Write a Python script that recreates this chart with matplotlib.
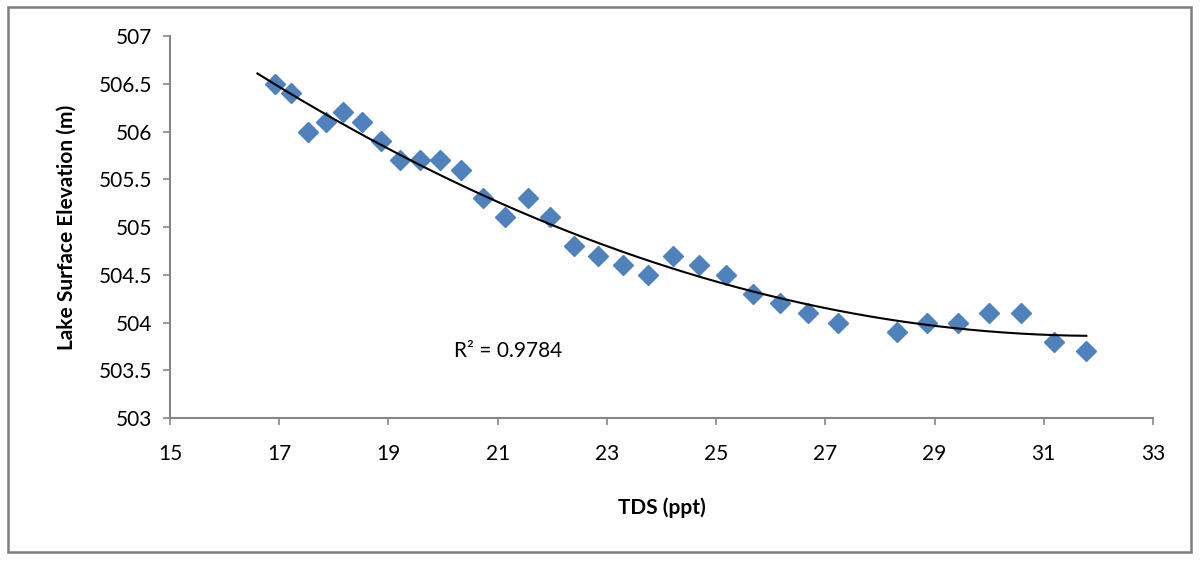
import numpy as np
import matplotlib.pyplot as plt
from matplotlib.patches import Rectangle

# TDS (ppt) vs lake surface elevation (m)
tds = [16.92, 17.22, 17.53, 17.86, 18.17, 18.52, 18.86, 19.21, 19.58, 19.95,
       20.33, 20.73, 21.14, 21.56, 21.96, 22.40, 22.84, 23.30, 23.75, 24.21,
       24.69, 25.18, 25.68, 26.17, 26.68, 27.23, 28.31, 28.86, 29.43, 30.00,
       30.59, 31.19, 31.78]
elev = [506.5, 506.4, 506.0, 506.1, 506.2, 506.1, 505.9, 505.7, 505.7, 505.7,
        505.6, 505.3, 505.1, 505.3, 505.1, 504.8, 504.7, 504.6, 504.5, 504.7,
        504.6, 504.5, 504.3, 504.2, 504.1, 504.0, 503.9, 504.0, 504.0, 504.1,
        504.1, 503.8, 503.7]
x_ticks = [15, 17, 19, 21, 23, 25, 27, 29, 31, 33]
y_ticks = [503, 503.5, 504, 504.5, 505, 505.5, 506, 506.5, 507]
y_tick_labels = ['503', '503.5', '504', '504.5', '505', '505.5', '506', '506.5', '507']
r2_label = 'R² = 0.9784'

plt.rcParams['font.family'] = ['Lato', 'DejaVu Sans']
grey = '#868686'

fig = plt.figure(figsize=(12, 5.63), dpi=100)
ax = fig.add_axes([0.1417, 0.2575, 0.8191, 0.6785])

# 2nd order polynomial trendline
coef = np.polyfit(tds, elev, 2)
xt = np.linspace(16.6, max(tds), 200)
ax.plot(xt, np.polyval(coef, xt), color='black', lw=1.5, zorder=3)

ax.plot(tds, elev, linestyle='none', marker='D', ms=10.5,
        color='#4F81BD', mec='#4F81BD', zorder=2)

ax.text(20.2, 503.7, r2_label, fontsize=15, va='center', ha='left')

ax.set_xlim(15, 33)
ax.set_ylim(503, 507)
ax.set_xticks(x_ticks)
ax.set_yticks(y_ticks)
ax.set_yticklabels(y_tick_labels)
ax.tick_params(direction='out', length=5, width=1.2, color=grey,
               labelsize=15, pad=8)
ax.tick_params(axis='x', pad=14)
for s in ['top', 'right']:
    ax.spines[s].set_visible(False)
for s in ['left', 'bottom']:
    ax.spines[s].set_color(grey)
    ax.spines[s].set_linewidth(1.5)

ax.set_xlabel('TDS (ppt)', fontsize=15, fontweight='bold', labelpad=24)
ax.set_ylabel('Lake Surface Elevation (m)', fontsize=15, fontweight='bold', labelpad=16)

# outer chart frame
fig.patches.append(Rectangle((8 / 1200, 1 - 552 / 563), 1183 / 1200, 545 / 563,
                             transform=fig.transFigure, fill=False,
                             edgecolor='#7f7f7f', lw=1.8))

fig.savefig('out.png', dpi=100)
